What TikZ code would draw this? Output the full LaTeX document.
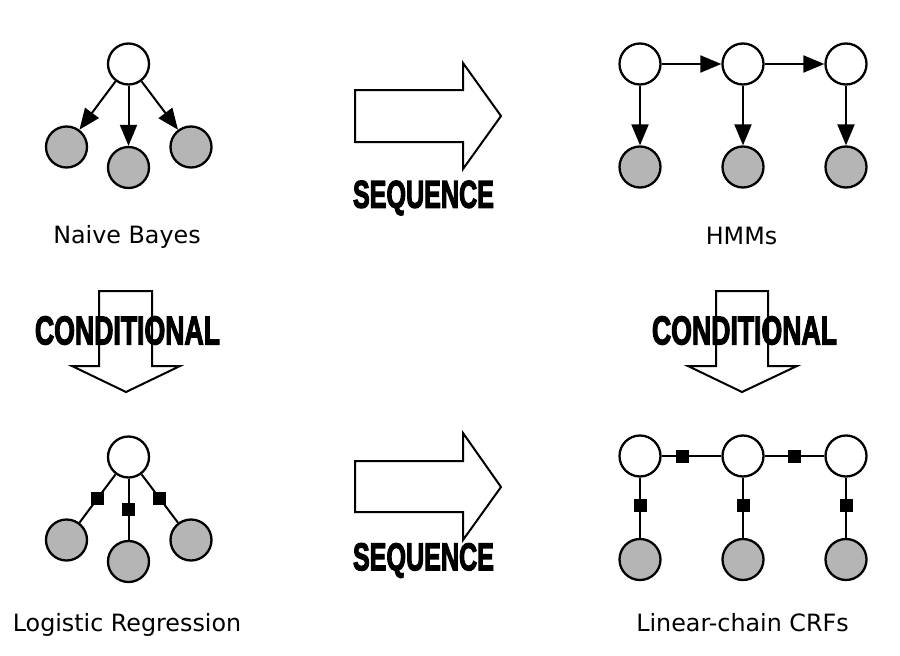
\documentclass[tikz,border=0pt]{standalone}
\usepackage{fontspec}
\setmainfont{DejaVu Sans}
\newfontfamily\bannerfont[BoldFeatures={FakeBold=3.5}]{Liberation Sans}
\usepackage{graphicx}
\usetikzlibrary{arrows.meta,positioning,calc}
\definecolor{obsgray}{gray}{0.71}
\tikzset{
    hidden/.style={circle, draw, line width=2.3pt, minimum size=41pt, inner sep=0, fill=white},
    observed/.style={hidden, fill=obsgray},
    edge/.style={-{Triangle[length=21pt, width=17pt]}, line width=2pt},
    factorline/.style={line width=2pt},
    factor/.style={rectangle, fill=black, minimum size=13pt, inner sep=0},
    bigarrow/.style={draw, line width=2pt, line join=miter},
    banner/.style={inner sep=0, font=\bannerfont\bfseries},
    caption/.style={anchor=base, inner sep=0, font=\fontsize{23.8}{28}\selectfont},
}

\begin{document}
\begin{tikzpicture}[x=1pt, y=-1pt]
    \useasboundingbox (0,0) rectangle (900,656);

    \node[hidden] (nbY) at (128.5,64) {};
    \node[observed] (nbX1) at (66.5,147) {};
    \node[observed] (nbX2) at (128.5,167.5) {};
    \node[observed] (nbX3) at (191,147) {};
    \foreach \i in {1,2,3} \draw[edge] (nbY) -- (nbX\i);
    \node[caption] (nbLabel) at (127,243) {Naive Bayes};

    \foreach \i/\x in {1/640,2/743,3/846} {
        \node[hidden] (hmmY\i) at (\x,64) {};
        \node[observed] (hmmX\i) at (\x,167) {};
        \draw[edge] (hmmY\i) -- (hmmX\i);
    }
    \draw[edge] (hmmY1) -- (hmmY2);
    \draw[edge] (hmmY2) -- (hmmY3);
    \node[caption] (hmmLabel) at (741.5,244) {HMMs};

    \node[hidden] (lrY) at (128.5,457) {};
    \node[observed] (lrX1) at (66.5,540) {};
    \node[observed] (lrX2) at (128.5,561.5) {};
    \node[observed] (lrX3) at (191,540) {};
    \foreach \i in {1,2,3} \draw[factorline] (lrY) -- node[factor] {} (lrX\i);
    \node[caption] (lrLabel) at (127,631) {Logistic Regression};

    \foreach \i/\x in {1/640,2/743,3/846} {
        \node[hidden] (crfY\i) at (\x,456) {};
        \node[observed] (crfX\i) at (\x,559.5) {};
        \draw[factorline] (crfY\i) -- node[factor, pos=.47] {} (crfX\i);
    }
    \draw[factorline] (crfY1) -- node[factor, pos=.35] {} (crfY2);
    \draw[factorline] (crfY2) -- node[factor] {} (crfY3);
    \node[caption] (crfLabel) at (742.5,631) {Linear-chain CRFs};

    \draw[bigarrow] (355,90) -- (463,90) -- (463,63) -- (501,116) -- (463,169) -- (463,142) -- (355,142) -- cycle;
    \draw[bigarrow] (355,461) -- (463,461) -- (463,433) -- (501,487) -- (463,540) -- (463,512) -- (355,512) -- cycle;
    \draw[bigarrow] (99,291) -- (152,291) -- (152,366) -- (180,366) -- (126,392) -- (72,366) -- (99,366) -- cycle;
    \draw[bigarrow] (716,291) -- (768,291) -- (768,366) -- (797,366) -- (742,392) -- (688,366) -- (716,366) -- cycle;

    \node[banner] (seqTop) at (423.5,198) {\resizebox{141pt}{27pt}{SEQUENCE}};
    \node[banner] (seqBottom) at (423.5,560.5) {\resizebox{141pt}{27pt}{SEQUENCE}};
    \node[banner] (condLeft) at (127.5,330.5) {\resizebox{185pt}{28pt}{CONDITIONAL}};
    \node[banner] (condRight) at (744.5,330.5) {\resizebox{185pt}{28pt}{CONDITIONAL}};
\end{tikzpicture}
\end{document}
